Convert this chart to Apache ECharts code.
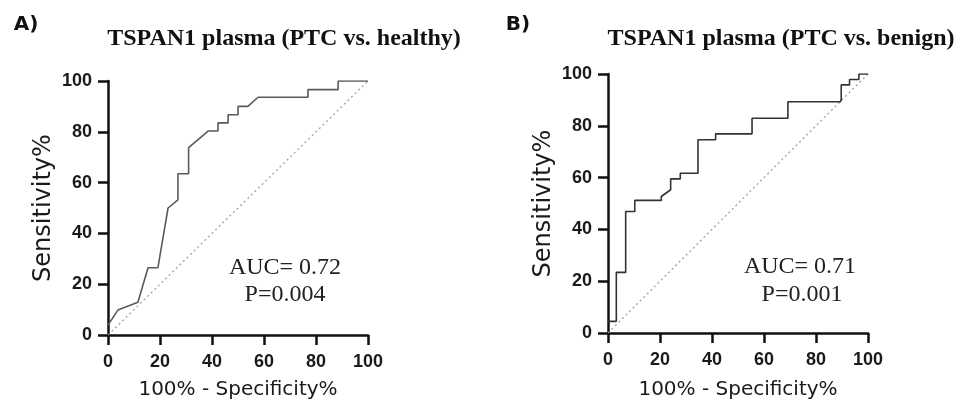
<!DOCTYPE html>
<html lang="en">
<head>
    <meta charset="UTF-8">
    <style>
        body { margin: 0; background: #fff; }
        #main { width: 965px; height: 405px; }
    </style>
    <title>ROC</title>
</head>
<body>
    <div id="main"></div>
    <script src="https://cdn.jsdelivr.net/npm/echarts@6/dist/echarts.min.js"></script>
    <script>
        // panel A: PTC vs healthy
        var rocAx = [0, 3.8, 11.5, 15.4, 19.2, 23.1, 26.9, 26.9, 31, 31, 38.5, 42.3, 42.3, 46.2, 46.2, 50, 50, 53.8, 57.7, 76.9, 76.9, 88.5, 88.5, 100];
        var rocAy = [3.9, 9.8, 12.9, 26.5, 26.5, 50, 53.2, 63.5, 63.5, 73.8, 80.3, 80.3, 83.5, 83.5, 86.7, 86.7, 90, 90, 93.6, 93.6, 96.6, 96.6, 100, 100];
        // panel B: PTC vs benign
        var rocBx = [0, 3.2, 3.2, 6.8, 6.8, 10.3, 10.3, 20.5, 20.5, 24.1, 24.1, 27.8, 27.8, 34.6, 34.6, 41.4, 41.4, 55.4, 55.4, 69.2, 69.2, 89.4, 89.7, 89.7, 92.9, 92.9, 96.5, 96.5, 100];
        var rocBy = [4.5, 4.5, 23.4, 23.4, 46.9, 46.9, 51.2, 51.2, 52.7, 55.3, 59.5, 59.5, 61.7, 61.7, 74.6, 74.6, 76.9, 76.9, 82.9, 82.9, 89.3, 89.3, 90.2, 95.8, 95.8, 97.9, 97.9, 100, 100];
        var refLine = [[0, 0], [100, 100]];

        function pairs(xs, ys) {
            return xs.map(function (x, i) { return [x, ys[i]]; });
        }

        var axisCommon = {
            type: 'value',
            min: 0,
            max: 100,
            interval: 20,
            axisLine: { show: true, lineStyle: { color: '#111', width: 2.5 } },
            axisTick: { show: true, length: 10, lineStyle: { color: '#111', width: 2.5 } },
            axisLabel: { color: '#1a1a1a', fontSize: 18, fontWeight: 'bold', fontFamily: 'Liberation Sans' },
            splitLine: { show: false }
        };

        function xAxis(idx, gap) {
            return Object.assign({}, axisCommon, {
                gridIndex: idx,
                name: '100% - Specificity%',
                nameLocation: 'middle',
                nameGap: gap,
                axisLabel: Object.assign({}, axisCommon.axisLabel, { margin: 18 }),
                nameTextStyle: { color: '#1a1a1a', fontSize: 20, fontFamily: 'DejaVu Sans' }
            });
        }
        function yAxis(idx) {
            return Object.assign({}, axisCommon, {
                gridIndex: idx,
                name: 'Sensitivity%',
                nameLocation: 'middle',
                nameGap: 52,
                axisLabel: Object.assign({}, axisCommon.axisLabel, { margin: 16 }),
                nameTextStyle: { color: '#1a1a1a', fontSize: 24, fontFamily: 'DejaVu Sans' }
            });
        }

        function txt(s, x, y, font, fill) {
            return {
                type: 'text', x: x, y: y,
                style: { text: s, font: font, fill: fill || '#111', align: 'center', verticalAlign: 'middle' }
            };
        }

        var serifTitle = 'bold 24px "Liberation Serif"';
        var serifNote = '24px "Liberation Serif"';
        var panelFont = 'bold 20px "DejaVu Sans"';

        var option = {
            animation: false,
            backgroundColor: '#fff',
            grid: [
                { left: 108, top: 81, width: 260, height: 258 },
                { left: 608, top: 74, width: 260, height: 259 }
            ],
            xAxis: [xAxis(0, 45), xAxis(1, 47)],
            yAxis: [yAxis(0), yAxis(1)],
            graphic: [
                txt('A)', 26, 25, panelFont),
                txt('B)', 518, 25, panelFont),
                txt('TSPAN1 plasma (PTC vs. healthy)', 284, 39, serifTitle),
                txt('TSPAN1 plasma (PTC vs. benign)', 781, 39, serifTitle),
                txt('AUC= 0.72', 285, 268, serifNote, '#222'),
                txt('P=0.004', 285, 295, serifNote, '#222'),
                txt('AUC= 0.71', 800, 267, serifNote, '#222'),
                txt('P=0.001', 802, 295, serifNote, '#222')
            ],
            series: [
                {
                    type: 'line', xAxisIndex: 0, yAxisIndex: 0,
                    data: refLine, showSymbol: false, silent: true,
                    lineStyle: { color: '#9a9a9a', width: 1.2, type: [2, 3] }
                },
                {
                    type: 'line', xAxisIndex: 0, yAxisIndex: 0,
                    data: pairs(rocAx, rocAy), showSymbol: false,
                    lineStyle: { color: '#5a5a5a', width: 1.6 }
                },
                {
                    type: 'line', xAxisIndex: 1, yAxisIndex: 1,
                    data: refLine, showSymbol: false, silent: true,
                    lineStyle: { color: '#9a9a9a', width: 1.2, type: [2, 3] }
                },
                {
                    type: 'line', xAxisIndex: 1, yAxisIndex: 1,
                    data: pairs(rocBx, rocBy), showSymbol: false,
                    lineStyle: { color: '#333', width: 1.6 }
                }
            ]
        };

        var myChart = echarts.init(document.getElementById('main'));
        myChart.setOption(option);
    </script>
</body>
</html>
